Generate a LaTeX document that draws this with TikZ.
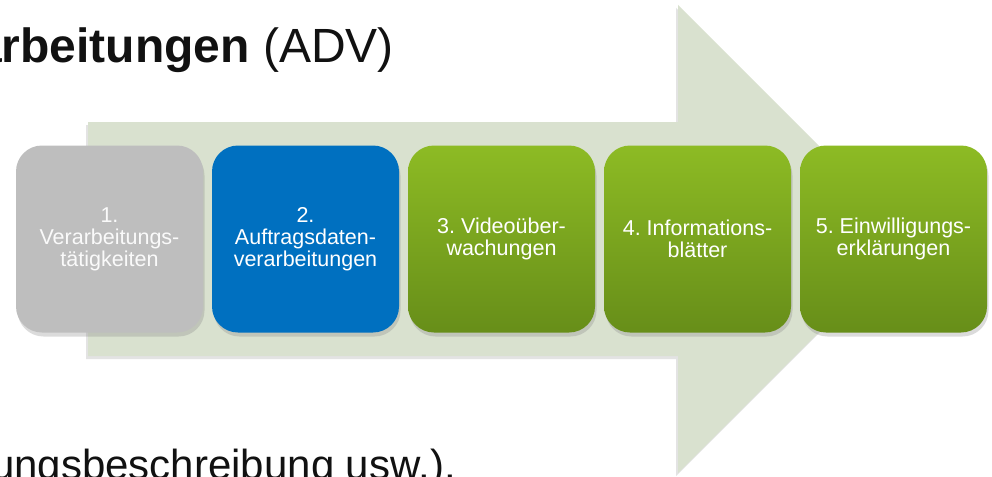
\documentclass[tikz,border=0pt]{standalone}
\usepackage{fontspec}
\setmainfont{Liberation Sans}
\frenchspacing
\usetikzlibrary{shadows}
\definecolor{arrowfill}{HTML}{D9E1CF}
\definecolor{boxgray}{HTML}{BEBEBE}
\definecolor{boxblue}{HTML}{0070C0}
\definecolor{greentop}{HTML}{8DBB24}
\definecolor{greenbot}{HTML}{678E19}
\definecolor{titleink}{HTML}{111111}
\tikzset{
  stepbox/.style={rounded corners=26pt, minimum width=187pt, minimum height=187pt,
    inner sep=4pt, align=center, text=white,
    font=\fontsize{21.5}{22}\selectfont,
    drop shadow={opacity=0.28, shadow xshift=1.5pt, shadow yshift=-4pt}},
  greenbox/.style={stepbox, top color=greentop, bottom color=greenbot},
  bigtext/.style={text=titleink, inner sep=0pt},
}
\begin{document}
\begin{tikzpicture}[x=1pt, y=-1pt]
\useasboundingbox (0,0) rectangle (992,476);
\clip (0,0) rectangle (992,476);
\fill[white] (0,0) rectangle (992,476);
% big background arrow
\path[fill=arrowfill, drop shadow={opacity=0.22, shadow xshift=-2pt, shadow yshift=-3pt}]
  (88,122) -- (678,122) -- (678,5) -- (912,239) -- (678,473) -- (678,356) -- (88,356) -- cycle;
% title and bottom line (cut off by the picture edges, as in the reference)
\node[bigtext, anchor=base east, font=\fontsize{48}{56}\selectfont] (title) at (394,63)
  {\textbf{arbeitungen} (ADV)};
\node[bigtext, anchor=base east, font=\fontsize{42}{50}\selectfont] (bottom) at (456,479)
  {ungsbeschreibung usw.).};
% step boxes
\node[stepbox, fill=boxgray, text=white!96!gray] (b1) at (109.5,239)
  {1.\\Verarbeitungs-\\tätigkeiten};
\node[stepbox, fill=boxblue] (b2) at (305.5,239)
  {2.\\Auftragsdaten-\\verarbeitungen};
\node[greenbox] (b3) at (501.5,239) {3. Videoüber-\\wachungen};
\node[greenbox] (b4) at (697.5,239) {4. Informations-\\blätter};
\node[greenbox] (b5) at (893.5,239) {5. Einwilligungs-\\erklärungen};
\end{tikzpicture}
\end{document}
